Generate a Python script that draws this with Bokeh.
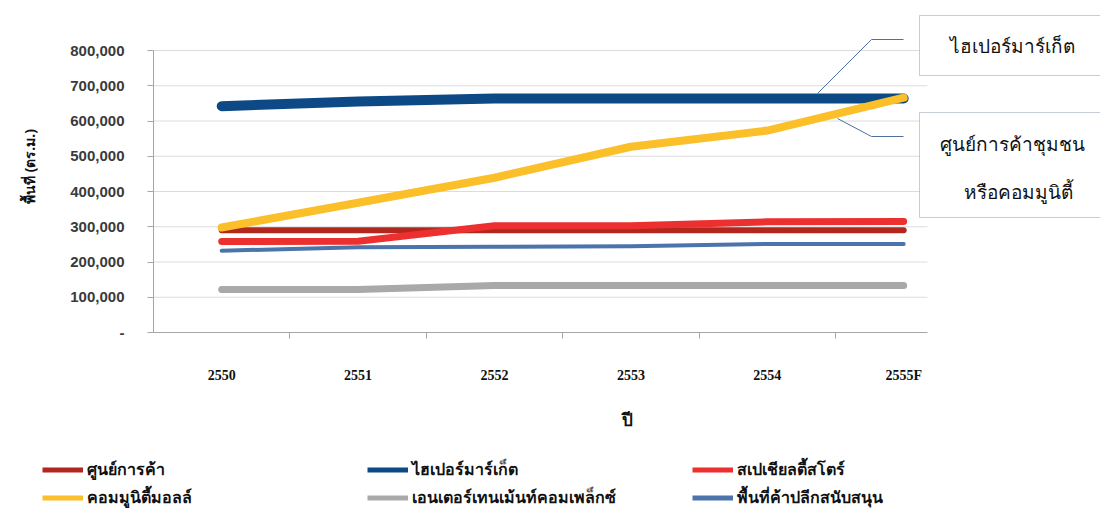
from bokeh.plotting import figure
from bokeh.layouts import column
from bokeh.models import (FixedTicker, NumeralTickFormatter, Legend, LegendItem,
                          Range1d, Label, BoxAnnotation, Arrow)
from bokeh.embed import file_html
from bokeh.resources import INLINE

# ---------------- data ----------------
years = ["2550", "2551", "2552", "2553", "2554", "2555F"]
shopping_center = [290000, 290000, 290000, 290000, 290000, 290000]
hypermarket = [642000, 655000, 664000, 664000, 664000, 664000]
specialty_store = [258000, 259000, 303000, 303000, 314000, 315000]
community_mall = [298000, 368000, 439000, 527000, 573000, 666000]
entertainment_complex = [122000, 122000, 133000, 133000, 133000, 133000]
support_retail = [232000, 242000, 243000, 245000, 251000, 251000]
y_ticks = [0, 100000, 200000, 300000, 400000, 500000, 600000, 700000, 800000]

series = [
    ("ศูนย์การค้า", shopping_center, "#b3261e", 6),
    ("ไฮเปอร์มาร์เก็ต", hypermarket, "#0d4a85", 10),
    ("สเปเชียลตี้สโตร์", specialty_store, "#ec3030", 7),
    ("คอมมูนิตี้มอลล์", community_mall, "#fbbf2a", 8),
    ("เอนเตอร์เทนเม้นท์คอมเพล็กซ์", entertainment_complex, "#a9a9a9", 7),
    ("พื้นที่ค้าปลีกสนับสนุน", support_retail, "#4a74aa", 4),
]

xs = list(range(len(years)))

# plot-area extent in axis units (the frame itself is wider, to hold the callouts)
x_lo, x_hi = -0.5, 5.174
y_lo, y_hi = 0, 800000

W = 1100
HA, HB = 453, 62
p = figure(width=W, height=HA, output_backend="svg", toolbar_location=None,
           x_range=Range1d(x_lo, 6.443), y_range=Range1d(y_lo, 941844),
           min_border_left=153, min_border_right=0, min_border_top=0,
           min_border_bottom=HA - 332)
p.frame_align = False
p.outline_line_color = None
p.background_fill_color = "white"
p.border_fill_color = "white"

# horizontal gridlines limited to the plot area
p.xgrid.grid_line_color = None
p.ygrid.grid_line_color = None
grid_levels = y_ticks[1:]
p.segment(x0=[x_lo] * len(grid_levels), x1=[x_hi] * len(grid_levels),
          y0=grid_levels, y1=grid_levels, line_color="#dcdcdc", line_width=1)

renderers = []
for name, vals, col, w in series:
    r = p.line(xs, vals, line_color=col, line_width=w, line_cap="round", line_join="round")
    renderers.append((name, r))

# x axis
xa = p.xaxis[0]
xa.bounds = (x_lo, x_hi)
xa.ticker = FixedTicker(ticks=xs, minor_ticks=[i + 0.5 for i in xs[:-1]])
xa.major_label_overrides = {i: y for i, y in enumerate(years)}
xa.major_tick_in = 0
xa.major_tick_out = 0
xa.minor_tick_in = 0
xa.minor_tick_out = 6
xa.minor_tick_line_color = "#a6a6a6"
xa.axis_line_color = "#a6a6a6"
xa.major_label_standoff = 29
xa.major_label_text_font = "Liberation Serif"
xa.major_label_text_font_style = "bold"
xa.major_label_text_font_size = "14px"
xa.major_label_text_color = "#111111"
xa.axis_label = "ปี"
xa.axis_label_text_font = "Noto Sans"
xa.axis_label_text_font_style = "bold"
xa.axis_label_text_font_size = "17px"
xa.axis_label_text_color = "#111111"
xa.axis_label_standoff = 22

# y axis
ya = p.yaxis[0]
ya.bounds = (y_lo, y_hi)
ya.ticker = FixedTicker(ticks=y_ticks, minor_ticks=[])
ya.formatter = NumeralTickFormatter(format="0,0")
ya.major_label_overrides = {0: "-"}
ya.major_tick_in = 0
ya.major_tick_out = 6
ya.major_tick_line_color = "#a6a6a6"
ya.axis_line_color = "#a6a6a6"
ya.major_label_standoff = 23
ya.major_label_text_font = "Liberation Sans"
ya.major_label_text_font_style = "bold"
ya.major_label_text_font_size = "15px"
ya.major_label_text_color = "#3a3a3a"
ya.axis_label = "พื้นที่ (ตร.ม.)"
ya.axis_label_text_font = "Noto Sans"
ya.axis_label_text_font_style = "bold"
ya.axis_label_text_font_size = "14px"
ya.axis_label_text_color = "#111111"
ya.axis_label_standoff = 28

# callouts: screen units are measured from the frame's bottom-left corner
FX, FY = 153, 332   # frame origin in page pixels


def sx(x):
    return x - FX


def sy(y):
    return FY - y


box_col = "#44597a"
lead_col = "#4f6fa0"
for (t, b) in [(15, 75), (112, 217)]:
    p.add_layout(BoxAnnotation(left=sx(919), right=sx(1110), top=sy(t), bottom=sy(b),
                               left_units="screen", right_units="screen",
                               top_units="screen", bottom_units="screen",
                               fill_color="white", fill_alpha=1,
                               line_color=box_col, line_width=1))
for (x, y, t) in [(1012, 45, "ไฮเปอร์มาร์เก็ต"), (1012, 143, "ศูนย์การค้าชุมชน"),
                  (1018, 191, "หรือคอมมูนิตี้")]:
    p.add_layout(Label(x=sx(x), y=sy(y), x_units="screen", y_units="screen", text=t,
                       text_align="center", text_baseline="middle",
                       text_font="Noto Sans", text_font_size="19px", text_color="#111111"))
for seg in [((817, 93), (871, 39)), ((871, 39), (903, 39)),
            ((837, 118), (871, 136)), ((871, 136), (903, 136))]:
    (x0, y0), (x1, y1) = seg
    p.add_layout(Arrow(end=None, x_start=sx(x0), y_start=sy(y0), x_end=sx(x1), y_end=sy(y1),
                       start_units="screen", end_units="screen",
                       line_color=lead_col, line_width=1))

# ---------------- legend strip below the chart ----------------
q = figure(width=W, height=HB, output_backend="svg", toolbar_location=None,
           x_axis_location=None, y_axis_location=None,
           x_range=Range1d(-100, -99), y_range=Range1d(-100, -99),
           min_border=0, min_border_left=0, min_border_right=0,
           min_border_top=0, min_border_bottom=0)
q.frame_align = False
q.outline_line_color = None
q.xgrid.grid_line_color = None
q.ygrid.grid_line_color = None
leg_items = []
for name, vals, col, w in series:
    r = q.line(xs, vals, line_color=col, line_width=5)
    leg_items.append(LegendItem(label=name, renderers=[r]))
legend = Legend(items=leg_items, orientation="horizontal", ncols=3,
                location=(42, HB - 7.5 - 49),
                glyph_width=41, glyph_height=23, label_standoff=4, label_width=277,
                label_height=23, spacing=3, padding=0, margin=0,
                border_line_color=None, background_fill_alpha=0,
                label_text_font="Noto Sans", label_text_font_style="bold",
                label_text_font_size="16px", label_text_color="#111111")
q.add_layout(legend, "center")

layout = column(p, q, spacing=0)
open("out.html", "w").write(file_html(layout, INLINE))
